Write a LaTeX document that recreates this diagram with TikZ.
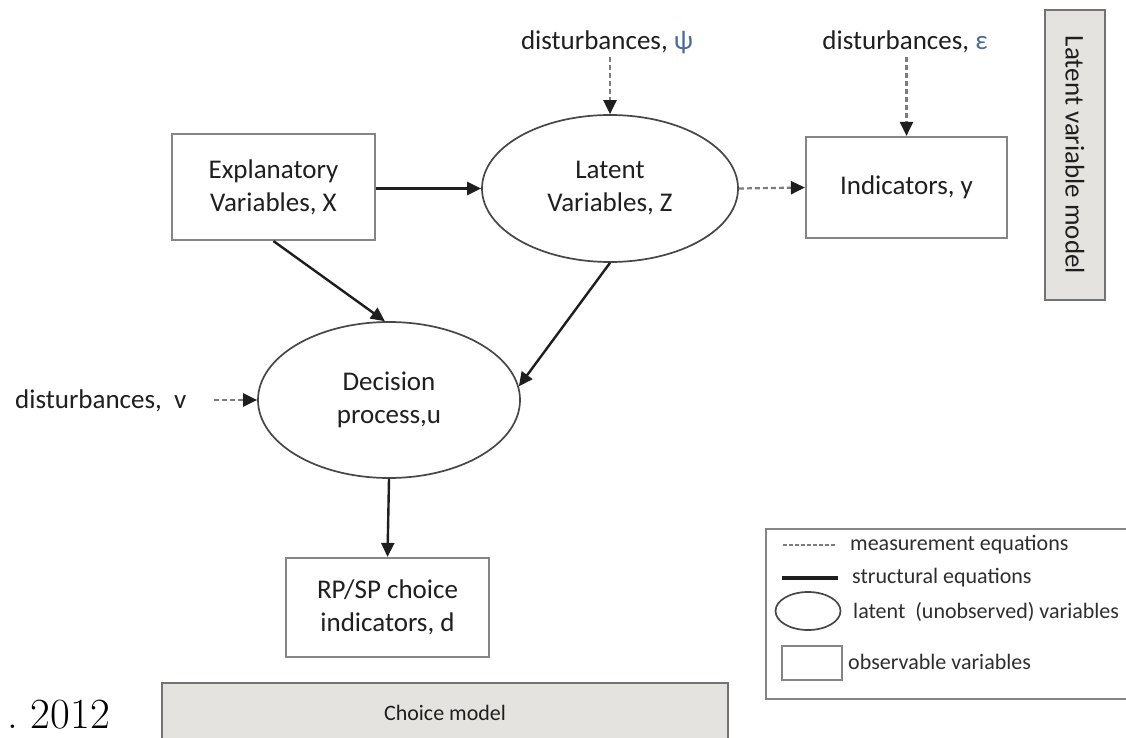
\documentclass[tikz,border=0pt]{standalone}
\usepackage{fontspec}
\newfontfamily\carl{Carlito}
\usetikzlibrary{arrows.meta,shapes.geometric}
\definecolor{boxgray}{HTML}{858585}
\definecolor{fillgray}{HTML}{E4E3DF}
\definecolor{linedark}{HTML}{1E1E1E}
\definecolor{dashgray}{HTML}{7C7C7C}
\definecolor{greekc}{HTML}{4A6A9A}
\begin{document}
\begin{tikzpicture}[x=1pt,y=-1pt,
  txt/.style={font=\carl\fontsize{27}{33}\selectfont, align=center, text=black!88},
  legtxt/.style={font=\carl\fontsize{22}{26}\selectfont, text=black!82, inner sep=0pt, anchor=west},
  obsbox/.style={rectangle, draw=boxgray, line width=2.2pt, fill=white, inner sep=0pt},
  latentvar/.style={ellipse, draw=black!72, line width=1.7pt, fill=white, inner sep=0pt},
  struct/.style={draw=linedark, line width=2.4pt, -{Triangle[length=14pt,width=13pt]}},
  meas/.style={draw=dashgray, line width=2.2pt, dash pattern=on 5pt off 3pt, -{Triangle[length=14pt,width=13pt,color=linedark]}},
  tagbox/.style={draw=black!55, line width=2.4pt, fill=fillgray, inner sep=0pt},
]
\fill[white] (0,0) rectangle (1126,738);
\useasboundingbox (0,0) rectangle (1126,738);

% main nodes
\node[obsbox, txt, minimum width=203pt, minimum height=106pt] (exp) at (273.5,187) {Explanatory\\Variables, X};
\node[latentvar, txt, minimum width=256pt, minimum height=147pt] (lat) at (610,188.5) {Latent\\Variables, Z};
\node[obsbox, txt, minimum width=201pt, minimum height=101pt] (ind) at (906.5,187.5) {Indicators, y};
\node[latentvar, txt, minimum width=262pt, minimum height=156pt] (dec) at (389,400) {Decision\\process,u};
\node[obsbox, txt, minimum width=203pt, minimum height=99pt] (rp) at (387.5,607.5) {RP/SP choice\\indicators, d};

% disturbance labels
\node[txt] (dpsi) at (607,42) {disturbances, \textcolor{greekc}{ψ}};
\node[txt] (deps) at (905,42) {disturbances, \textcolor{greekc}{ε}};
\node[txt, anchor=west, inner sep=0pt] (dv) at (15,401) {disturbances,\ \ v};
\coordinate (dvend) at (214,400);

% side tags
\node[tagbox, txt, rotate=-90, minimum width=290pt, minimum height=60pt] (lvm) at (1075,155) {Latent variable model};
\node[tagbox, font=\carl\fontsize{22}{26}\selectfont, text=black!88, minimum width=566pt, minimum height=60pt, anchor=north] (cm) at (445,682) {Choice model};

% connectors
\draw[struct] (exp.east |- lat.west) -- (lat.west);
\draw[meas] (lat.east) -- (ind.west);
\draw[meas] (dpsi.south -| lat.north) -- (lat.north);
\draw[meas] (deps.south -| ind.north) -- (ind.north);
\draw[meas] (dvend) -- (dec.west);
\draw[struct] (exp.south) -- (dec.93);
\draw[struct] (lat.south) -- (dec.6);
\draw[struct] (dec.south) -- (rp.north);

% legend
\node[draw=boxgray, line width=2.2pt, minimum width=372pt, minimum height=170pt, anchor=north west, inner sep=0pt] (leg) at (765,528) {};
\coordinate (m1) at (783,545); \coordinate (m2) at (836,545);
\draw[draw=dashgray, line width=2pt, dash pattern=on 4pt off 2pt] (m1) -- (m2);
\node[legtxt] (lm) at (850,545) {measurement equations};
\coordinate (s1) at (782,578); \coordinate (s2) at (838,578);
\draw[draw=linedark, line width=3.5pt] (s1) -- (s2);
\node[legtxt] (ls) at (852,578) {structural equations};
\node[latentvar, minimum width=65pt, minimum height=38pt] (le) at (808,611) {};
\node[legtxt] (ll) at (853,612) {latent\ \ (unobserved) variables};
\node[obsbox, minimum width=60pt, minimum height=34pt] (lr) at (812,663) {};
\node[legtxt] (lo) at (848,662) {observable variables};

% caption remnant
\node[font=\fontsize{43}{47}\selectfont, anchor=base east, inner sep=0pt] (yr) at (110,728) {.\ 2012};
\end{tikzpicture}
\end{document}
